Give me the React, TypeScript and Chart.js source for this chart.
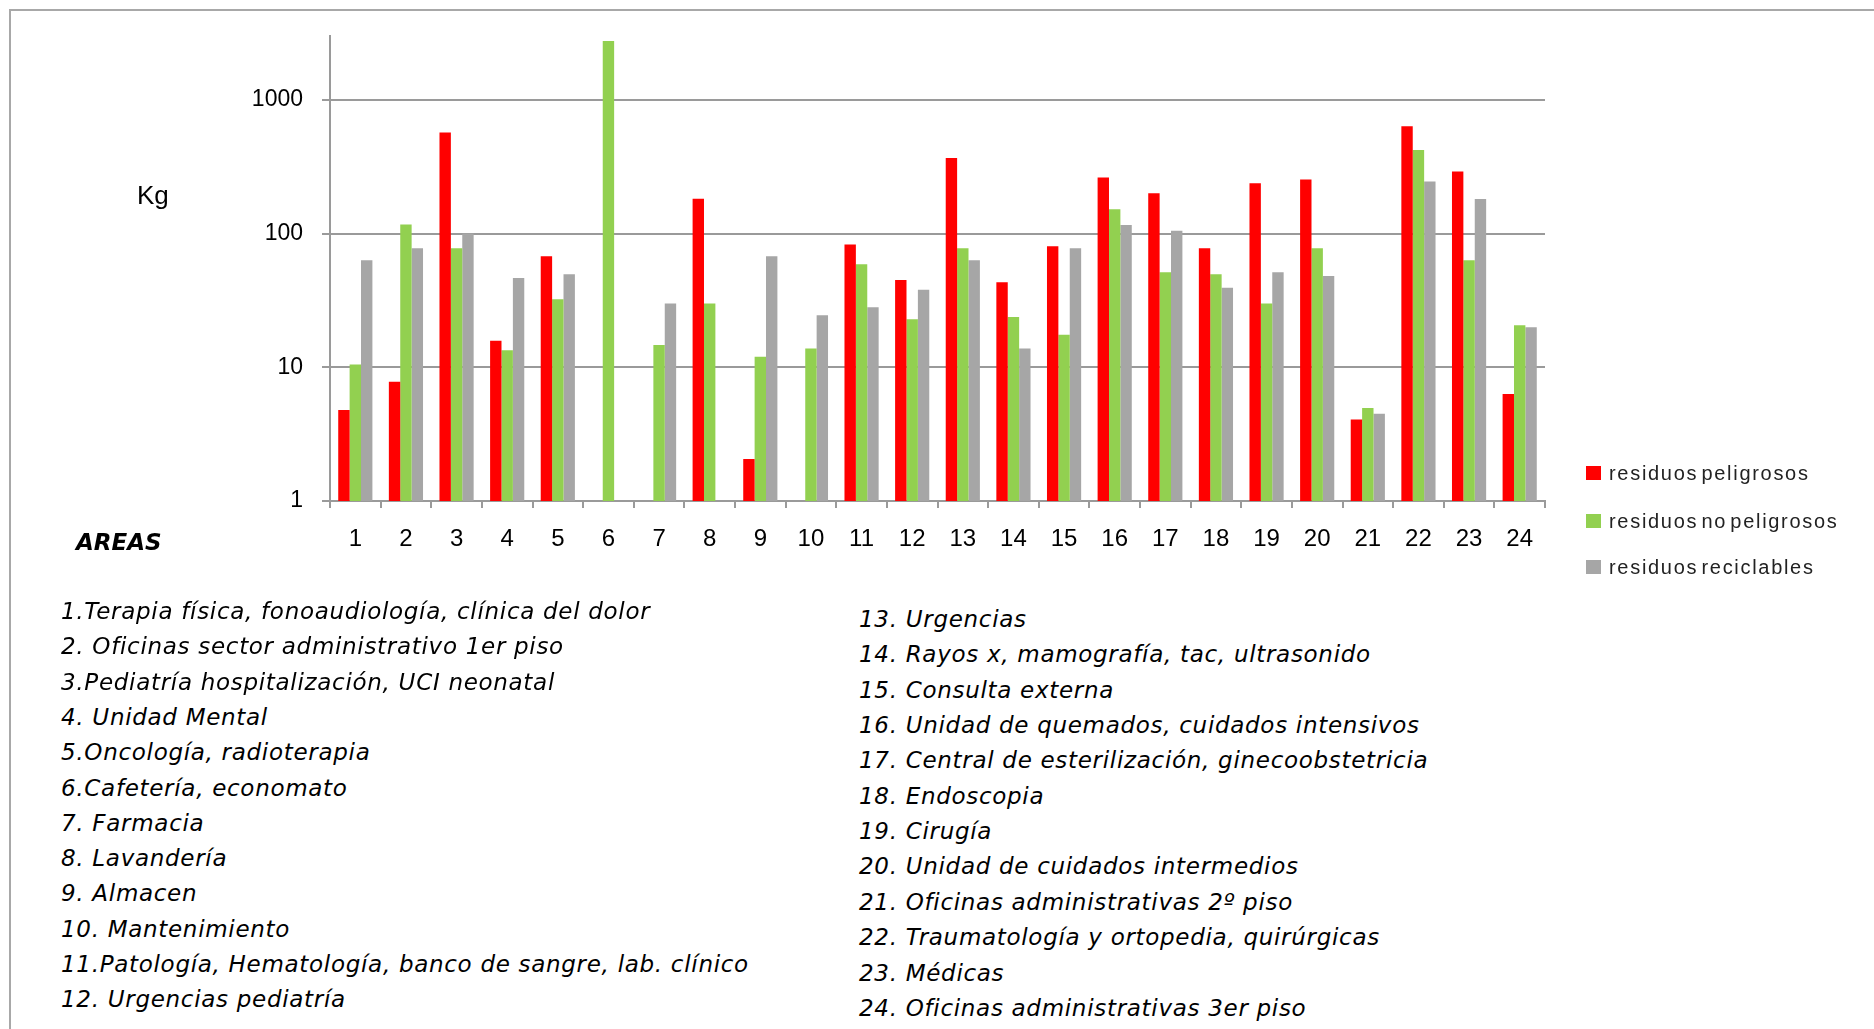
import React, { useEffect, useRef } from "react";
import { Chart, registerables } from "chart.js";

Chart.register(...registerables);

const categories = ["1","2","3","4","5","6","7","8","9","10","11","12","13","14","15","16","17","18","19","20","21","22","23","24"];
const peligrosos = [4.8, 7.8, 570, 15.8, 67.6, null, null, 182, 2.06, null, 82.7, 44.9, 367, 43.3, 80.3, 263, 200, 77.5, 238, 254, 4.06, 634, 291, 6.3];
const noPeligrosos = [10.5, 117, 77.5, 13.4, 32.2, 2750, 14.7, 30, 12.0, 13.8, 59, 22.9, 77.5, 23.8, 17.5, 152, 51.4, 49.6, 30, 77.5, 4.96, 421, 63, 20.6];
const reciclables = [63, 77.5, 100, 46.5, 49.6, null, 30, null, 67.6, 24.5, 28.1, 38, 63, 13.8, 77.5, 116, 105, 39.4, 51.4, 48.2, 4.49, 245, 181, 19.9];
const seriesNames = ["residuos peligrosos", "residuos no peligrosos", "residuos reciclables"];
const seriesColors = ["#FF0000", "#92D050", "#A6A6A6"];
const yTicks = [1, 10, 100, 1000];
const yMin = 1;
const yMax = 3000;
const yLabel = "Kg";
const areasTitle = "AREAS";
const areasLeft = [
  "1.Terapia física, fonoaudiología, clínica del dolor",
  "2. Oficinas sector administrativo 1er piso",
  "3.Pediatría hospitalización, UCI neonatal",
  "4. Unidad Mental",
  "5.Oncología, radioterapia",
  "6.Cafetería, economato",
  "7. Farmacia",
  "8. Lavandería",
  "9. Almacen",
  "10. Mantenimiento",
  "11.Patología, Hematología, banco de sangre, lab. clínico",
  "12. Urgencias pediatría",
];
const areasRight = [
  "13. Urgencias",
  "14. Rayos x, mamografía, tac, ultrasonido",
  "15. Consulta externa",
  "16. Unidad de quemados, cuidados intensivos",
  "17. Central de esterilización, ginecoobstetricia",
  "18. Endoscopia",
  "19. Cirugía",
  "20. Unidad de cuidados intermedios",
  "21. Oficinas administrativas 2º piso",
  "22. Traumatología y ortopedia, quirúrgicas",
  "23. Médicas",
  "24. Oficinas administrativas 3er piso",
];

const W = 1874;
const CH = 600;
const AREA_LEFT = 330;
const AREA_RIGHT = 1545;
const AREA_TOP = 36;
const AREA_BOTTOM = 501;
const XAXIS_H = 60;
const GRID = "#9a9a9a";

export default function App() {
  const ref = useRef<HTMLCanvasElement | null>(null);

  useEffect(() => {
    if (!ref.current) return;
    const chart = new Chart(ref.current, {
      type: "bar",
      data: {
        labels: categories,
        datasets: [peligrosos, noPeligrosos, reciclables].map((d, i) => ({
          label: seriesNames[i],
          data: d as any,
          backgroundColor: seriesColors[i],
          borderWidth: 0,
          categoryPercentage: 0.675,
          barPercentage: 1.0,
        })),
      },
      options: {
        responsive: false,
        animation: false,
        devicePixelRatio: 1,
        layout: {
          padding: {
            left: 0,
            right: W - AREA_RIGHT,
            top: AREA_TOP,
            bottom: CH - AREA_BOTTOM - XAXIS_H,
          },
        },
        plugins: {
          legend: { display: false },
          tooltip: { enabled: false },
          title: { display: false },
        },
        scales: {
          x: {
            type: "category",
            offset: true,
            grid: {
              offset: true,
              drawOnChartArea: false,
              drawTicks: true,
              tickLength: 7,
              color: GRID,
              lineWidth: 2,
            },
            border: { display: true, color: GRID, width: 2 },
            ticks: {
              color: "#000",
              font: { family: "'Liberation Sans', Arial, sans-serif", size: 24 },
              padding: 17,
              maxRotation: 0,
              autoSkip: false,
            },
            afterFit: (s: any) => {
              s.height = XAXIS_H;
            },
          },
          y: {
            type: "logarithmic",
            min: yMin,
            max: yMax,
            afterBuildTicks: (s: any) => {
              s.ticks = yTicks.map((v) => ({ value: v }));
            },
            afterFit: (s: any) => {
              s.width = AREA_LEFT;
            },
            grid: {
              color: GRID,
              lineWidth: 2,
              drawTicks: true,
              tickLength: 8,
            },
            border: { display: true, color: GRID, width: 2 },
            ticks: {
              color: "#000",
              font: { family: "'Liberation Sans', Arial, sans-serif", size: 23 },
              padding: 19,
              callback: (v: any) => String(v),
            },
          },
        },
      },
    });
    return () => chart.destroy();
  }, []);

  const listFont: React.CSSProperties = {
    position: "absolute",
    fontFamily: "'DejaVu Sans', sans-serif",
    fontStyle: "italic",
    fontSize: 23,
    letterSpacing: "0.7px",
    lineHeight: "28px",
    color: "#000",
    whiteSpace: "nowrap",
  };

  return (
    <div
      style={{
        position: "absolute",
        left: 0,
        top: 0,
        width: W,
        height: 1029,
        overflow: "hidden",
        background: "#fff",
      }}
    >
      <div
        style={{
          position: "absolute",
          left: 9,
          top: 9,
          width: 1900,
          height: 1100,
          border: "2px solid #a8a8a8",
          boxSizing: "border-box",
        }}
      />
      <canvas
        ref={ref}
        width={W}
        height={CH}
        style={{ position: "absolute", left: 0, top: 0, width: W, height: CH }}
      />
      <div
        style={{
          position: "absolute",
          left: 137,
          top: 195 - 15,
          fontFamily: "'Liberation Sans', Arial, sans-serif",
          fontSize: 26,
          lineHeight: "30px",
          color: "#000",
        }}
      >
        {yLabel}
      </div>
      <div
        style={{
          position: "absolute",
          left: 76,
          top: 542 - 14,
          fontFamily: "'DejaVu Sans', sans-serif",
          fontStyle: "italic",
          fontWeight: "bold",
          fontSize: 23,
          lineHeight: "28px",
          color: "#000",
        }}
      >
        {areasTitle}
      </div>
      {seriesNames.map((n, i) => {
        const cy = [473, 521, 567][i];
        return (
          <div key={n} style={{ position: "absolute", left: 1586, top: cy - 12, height: 24, display: "flex", alignItems: "center" }}>
            <div style={{ width: 15, height: 14, background: seriesColors[i], marginRight: 8 }} />
            <span
              style={{
                fontFamily: "'Liberation Sans', Arial, sans-serif",
                fontSize: 20,
                letterSpacing: "1.7px",
                wordSpacing: "-4px",
                color: "#222",
                whiteSpace: "nowrap",
              }}
            >
              {n}
            </span>
          </div>
        );
      })}
      {areasLeft.map((t, i) => (
        <div key={"l" + i} style={{ ...listFont, left: 61, top: 611 + i * 35.3 - 14 }}>
          {t}
        </div>
      ))}
      {areasRight.map((t, i) => (
        <div key={"r" + i} style={{ ...listFont, left: 859, top: 619 + i * 35.35 - 14 }}>
          {t}
        </div>
      ))}
    </div>
  );
}
